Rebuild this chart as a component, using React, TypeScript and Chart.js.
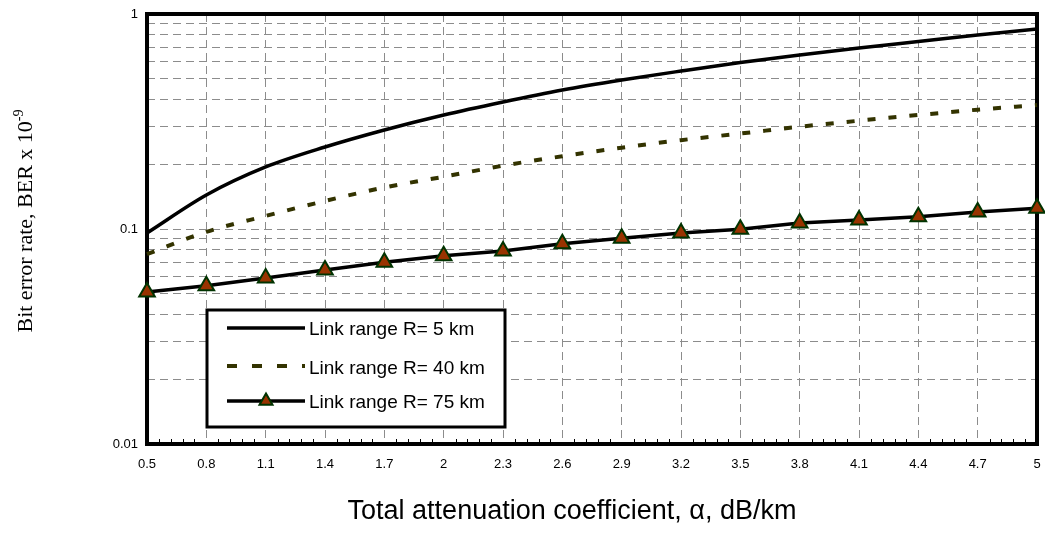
import { useEffect, useRef } from 'react';
import { Chart, registerables } from 'chart.js';

Chart.register(...registerables);

const categories = ['0.5', '0.8', '1.1', '1.4', '1.7', '2', '2.3', '2.6', '2.9', '3.2', '3.5', '3.8', '4.1', '4.4', '4.7', '5'];
const ber5km = [0.0958, 0.1439, 0.1943, 0.2406, 0.2887, 0.339, 0.3897, 0.443, 0.4932, 0.5429, 0.5948, 0.6448, 0.6949, 0.745, 0.7988, 0.8516];
const ber40km = [0.0764, 0.097, 0.115, 0.135, 0.156, 0.175, 0.197, 0.218, 0.239, 0.259, 0.278, 0.299, 0.319, 0.339, 0.359, 0.377];
const ber75km = [0.0509, 0.0545, 0.0591, 0.0645, 0.07, 0.075, 0.079, 0.0853, 0.0906, 0.0958, 0.0997, 0.1065, 0.11, 0.114, 0.12, 0.125];
const seriesLabels = ['Link range R= 5 km', 'Link range R= 40 km', 'Link range R= 75 km'];
const yLabelTicks = [0.01, 0.1, 1];
const yGridTicks = [0.01, 0.02, 0.03, 0.04, 0.05, 0.06, 0.07, 0.08, 0.09, 0.1, 0.2, 0.3, 0.4, 0.5, 0.6, 0.7, 0.8, 0.9, 1];
const xTitle = 'Total attenuation coefficient, \u03B1, dB/km';
const yTitleMain = 'Bit error rate, BER x 10';
const yTitleSup = '-9';

const SANS = '"Liberation Sans", Arial, sans-serif';
const SERIF = '"Liberation Serif", "Times New Roman", serif';
const C40 = '#333300';
const TRI_FILL = '#993300';
const TRI_BORDER = '#003300';
const GRID = '#8c8c8c';

function drawTriangle(ctx: CanvasRenderingContext2D, cx: number, cy: number, r: number) {
  ctx.beginPath();
  ctx.moveTo(cx, cy - r);
  ctx.lineTo(cx + r * Math.sin(Math.PI / 3), cy + r / 2);
  ctx.lineTo(cx - r * Math.sin(Math.PI / 3), cy + r / 2);
  ctx.closePath();
  ctx.fillStyle = TRI_FILL;
  ctx.fill();
  ctx.lineWidth = 2;
  ctx.strokeStyle = TRI_BORDER;
  ctx.stroke();
}

const decorPlugin = {
  id: 'decor',
  beforeDatasetsDraw(chart: any) {
    const { ctx, chartArea: a, scales } = chart;
    const xs = scales.x;
    ctx.save();
    // minor ticks on the bottom axis
    ctx.strokeStyle = '#000';
    ctx.lineWidth = 1;
    const step = (xs.getPixelForValue(1) - xs.getPixelForValue(0)) / 5;
    ctx.beginPath();
    for (let i = 0; i < categories.length - 1; i++) {
      const x0 = xs.getPixelForValue(i);
      for (let k = 1; k < 5; k++) {
        const px = Math.round(x0 + k * step) + 0.5;
        ctx.moveTo(px, a.bottom);
        ctx.lineTo(px, a.bottom - 5);
      }
    }
    ctx.stroke();
    // plot frame
    ctx.lineWidth = 4;
    ctx.strokeStyle = '#000';
    ctx.strokeRect(a.left, a.top, a.right - a.left, a.bottom - a.top);
    ctx.restore();
  },
  afterDraw(chart: any) {
    const { ctx, chartArea: a } = chart;
    ctx.save();
    // legend box
    const lx = a.left + 60;
    const ly = a.top + 296;
    const lw = 298;
    const lh = 117;
    ctx.fillStyle = '#fff';
    ctx.fillRect(lx, ly, lw, lh);
    ctx.lineWidth = 3;
    ctx.strokeStyle = '#000';
    ctx.strokeRect(lx, ly, lw, lh);
    const sx0 = lx + 20;
    const sx1 = lx + 98;
    const rowsLine = [ly + 18, ly + 56, ly + 91];
    const rowsText = [ly + 25, ly + 64, ly + 98];
    ctx.lineWidth = 3.5;
    ctx.strokeStyle = '#000';
    ctx.beginPath();
    ctx.moveTo(sx0, rowsLine[0]);
    ctx.lineTo(sx1, rowsLine[0]);
    ctx.stroke();
    ctx.lineWidth = 4;
    ctx.strokeStyle = C40;
    ctx.setLineDash([10, 15]);
    ctx.beginPath();
    ctx.moveTo(sx0, rowsLine[1]);
    ctx.lineTo(sx1, rowsLine[1]);
    ctx.stroke();
    ctx.setLineDash([]);
    ctx.lineWidth = 3.5;
    ctx.strokeStyle = '#000';
    ctx.beginPath();
    ctx.moveTo(sx0, rowsLine[2]);
    ctx.lineTo(sx1, rowsLine[2]);
    ctx.stroke();
    drawTriangle(ctx, (sx0 + sx1) / 2, rowsLine[2], 7.5);
    ctx.fillStyle = '#000';
    ctx.font = '19px ' + SANS;
    ctx.textAlign = 'left';
    ctx.textBaseline = 'alphabetic';
    seriesLabels.forEach((t, i) => ctx.fillText(t, sx1 + 4, rowsText[i]));

    // x title
    ctx.font = '27px ' + SANS;
    ctx.textAlign = 'center';
    ctx.fillText(xTitle, (a.left + a.right) / 2 - 20, 519);

    // y title with superscript
    ctx.translate(25, 221);
    ctx.rotate(-Math.PI / 2);
    ctx.font = '22px ' + SERIF;
    const w1 = ctx.measureText(yTitleMain).width;
    ctx.font = '14px ' + SERIF;
    const w2 = ctx.measureText(yTitleSup).width;
    const start = -(w1 + w2) / 2;
    ctx.textAlign = 'left';
    ctx.font = '22px ' + SERIF;
    ctx.fillText(yTitleMain, start, 7);
    ctx.font = '14px ' + SERIF;
    ctx.fillText(yTitleSup, start + w1, -2);
    ctx.restore();
  },
};

export default function App() {
  const ref = useRef<HTMLCanvasElement | null>(null);
  useEffect(() => {
    if (!ref.current) return;
    const chart = new Chart(ref.current, {
      type: 'line',
      data: {
        labels: categories,
        datasets: [
          { label: seriesLabels[0], data: ber5km, borderColor: '#000', borderWidth: 3.5, pointRadius: 0, cubicInterpolationMode: 'monotone', fill: false },
          { label: seriesLabels[1], data: ber40km, borderColor: C40, borderWidth: 4, borderDash: [8, 13], pointRadius: 0, cubicInterpolationMode: 'monotone', fill: false },
          { label: seriesLabels[2], data: ber75km, borderColor: '#000', borderWidth: 3.5, pointStyle: 'triangle', pointRadius: 9, pointBorderWidth: 2, pointBackgroundColor: TRI_FILL, pointBorderColor: TRI_BORDER, fill: false },
        ],
      },
      options: {
        responsive: false,
        animation: false,
        layout: { autoPadding: false, padding: { top: 14, right: 8, left: 0, bottom: 0 } },
        plugins: { legend: { display: false }, tooltip: { enabled: false }, title: { display: false } },
        scales: {
          x: {
            type: 'category',
            offset: false,
            afterFit: (s: any) => {
              s.height = 97;
              s.paddingLeft = 0;
              s.paddingRight = 0;
            },
            ticks: { autoSkip: false, maxRotation: 0, color: '#000', font: { family: SANS, size: 13 }, padding: 13 },
            grid: { color: GRID, lineWidth: 1, drawTicks: false, offset: false },
            border: { display: false, dash: [8, 5] },
          },
          y: {
            type: 'logarithmic',
            min: 0.01,
            max: 1,
            afterFit: (s: any) => {
              s.width = 147;
              s.paddingTop = 0;
              s.paddingBottom = 0;
            },
            afterBuildTicks: (s: any) => {
              s.ticks = yGridTicks.map((v) => ({ value: v }));
            },
            ticks: {
              autoSkip: false,
              color: '#000',
              font: { family: SANS, size: 13 },
              padding: 9,
              callback: (v: any) => (yLabelTicks.includes(Number(v)) ? String(v) : ''),
            },
            grid: { color: GRID, lineWidth: 1, drawTicks: false },
            border: { display: false, dash: [8, 5] },
          },
        },
      },
      plugins: [decorPlugin],
    } as any);
    return () => chart.destroy();
  }, []);
  return (
    <div style={{ position: 'fixed', left: 0, top: 0, width: 1045, height: 541, background: '#fff' }}>
      <canvas ref={ref} width={1045} height={541} style={{ display: 'block' }} />
    </div>
  );
}
